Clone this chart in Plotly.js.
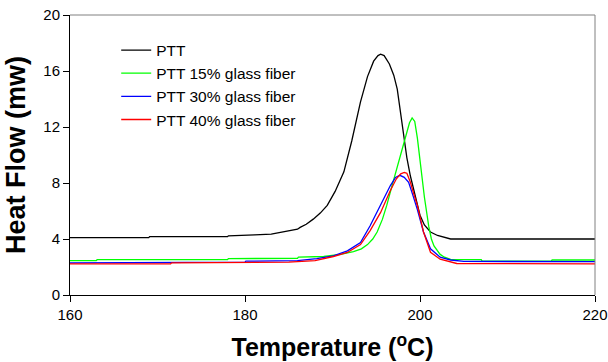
<!DOCTYPE html>
<html><head><meta charset="utf-8">
<script src="https://cdn.plot.ly/plotly-3.0.1.min.js"></script>
<style>html,body{margin:0;padding:0;background:#fff}#chart{width:608px;height:362px}</style>
</head><body><div id="chart"></div>
<script>
// Data
const seriesNames = ["PTT", "PTT 15% glass fiber", "PTT 30% glass fiber", "PTT 40% glass fiber"];
const seriesColors = ["#000000", "#00ff00", "#0000ff", "#ff0000"];

const tPTT = [160,169,169.1,178,178.1,181,181.1,183,184,185,186,186.3,187,187.8,188.6,189.4,190.3,191.3,192.2,193.2,194,194.7,195.2,195.5,195.9,196.5,197,197.4,197.8,198.2,198.5,198.9,199.3,199.7,200,200.5,201.2,202,202.7,203.2,203.5,220];
const vPTT = [4.1,4.1,4.17,4.17,4.23,4.25,4.3,4.35,4.45,4.55,4.7,4.83,5.05,5.42,5.85,6.4,7.4,8.8,11.0,13.8,15.6,16.7,17.1,17.2,17.1,16.5,15.7,14.7,12.9,11.0,9.8,8.5,7.5,6.4,5.7,5.0,4.5,4.25,4.15,4.05,4.0,4.0];

const tPTT15 = [160,163,163.1,178,178.1,186,186.1,189,190.9,192.4,193.3,194,194.6,195.1,195.7,196.2,196.8,197.4,197.9,198.4,198.8,199.1,199.4,199.7,200.05,200.5,201,201.3,201.6,202.3,202.8,203.5,207,207.1,215,215.1,220];
const vPTT15 = [2.45,2.45,2.52,2.52,2.6,2.62,2.7,2.75,2.9,3.1,3.3,3.6,4.0,4.5,5.4,6.4,7.8,9.2,10.3,11.5,12.3,12.65,12.4,11.2,9.2,7.0,4.9,4.0,3.5,2.9,2.7,2.55,2.52,2.42,2.42,2.5,2.5];

const tPTT30 = [160,180,180.1,186,188.2,190.1,191.7,193.2,194.3,195.5,196.6,197.2,197.7,198.2,198.7,199.2,199.7,200.4,201.2,202.3,203.5,205,220];
const vPTT30 = [2.3,2.35,2.42,2.45,2.6,2.8,3.15,3.75,4.95,6.4,7.8,8.4,8.55,8.4,8.05,7.1,6.1,4.5,3.3,2.7,2.5,2.4,2.38];

const tPTT40 = [160,171.5,171.6,185,188,190.1,191.7,193.2,194.3,195.5,196.6,197.3,197.8,198.2,198.5,198.9,199.3,199.7,200.4,201.2,202.3,203.5,204.2,220];
const vPTT40 = [2.22,2.22,2.3,2.35,2.45,2.75,3.04,3.6,4.6,5.9,7.45,8.3,8.65,8.75,8.7,8.05,7.2,6.4,4.5,3.05,2.56,2.35,2.25,2.22];

const xTicks = [160, 180, 200, 220];
const yTicks = [0, 4, 8, 12, 16, 20];

const xs = [tPTT, tPTT15, tPTT30, tPTT40];
const ys = [vPTT, vPTT15, vPTT30, vPTT40];

const traces = seriesNames.map((n, i) => ({
  x: xs[i], y: ys[i], name: n, type: 'scatter', mode: 'lines',
  line: {color: seriesColors[i], width: 1.3}
}));

const layout = {
  width: 608, height: 362,
  margin: {l: 70, r: 13, t: 15, b: 67},
  paper_bgcolor: '#fff', plot_bgcolor: '#fff',
  font: {family: 'Liberation Sans, Arial, sans-serif', color: '#000'},
  showlegend: true,
  legend: {x: 0.088, y: 0.934, xanchor: 'left', yanchor: 'top', bgcolor: 'rgba(0,0,0,0)',
           font: {size: 15.5, family: 'Liberation Sans, Arial, sans-serif'}, tracegroupgap: 0},
  xaxis: {
    range: [160, 220], tickvals: xTicks, ticktext: xTicks.map(String),
    showgrid: false, zeroline: false, showline: true, linecolor: '#000', linewidth: 1,
    ticks: 'outside', ticklen: 6, tickcolor: '#000', tickfont: {size: 15},
    title: {text: '<b>Temperature (<sup>o</sup>C)</b>', font: {size: 25}, standoff: 16}
  },
  yaxis: {
    range: [0, 20], tickvals: yTicks, ticktext: yTicks.map(String),
    showgrid: false, zeroline: false, showline: true, linecolor: '#000', linewidth: 1,
    ticks: 'outside', ticklen: 6, tickcolor: '#000', tickfont: {size: 15},
    title: {text: '<b>Heat Flow (mw)</b>', font: {size: 27}, standoff: 9}
  },
  shapes: [
    {type: 'line', xref: 'paper', yref: 'paper', x0: 0, x1: 1, y0: 1, y1: 1, line: {color: '#808080', width: 1}},
    {type: 'line', xref: 'paper', yref: 'paper', x0: 1, x1: 1, y0: 0, y1: 1, line: {color: '#808080', width: 1}}
  ]
};

Plotly.newPlot('chart', traces, layout, {staticPlot: true, displayModeBar: false});
</script>
</body></html>
